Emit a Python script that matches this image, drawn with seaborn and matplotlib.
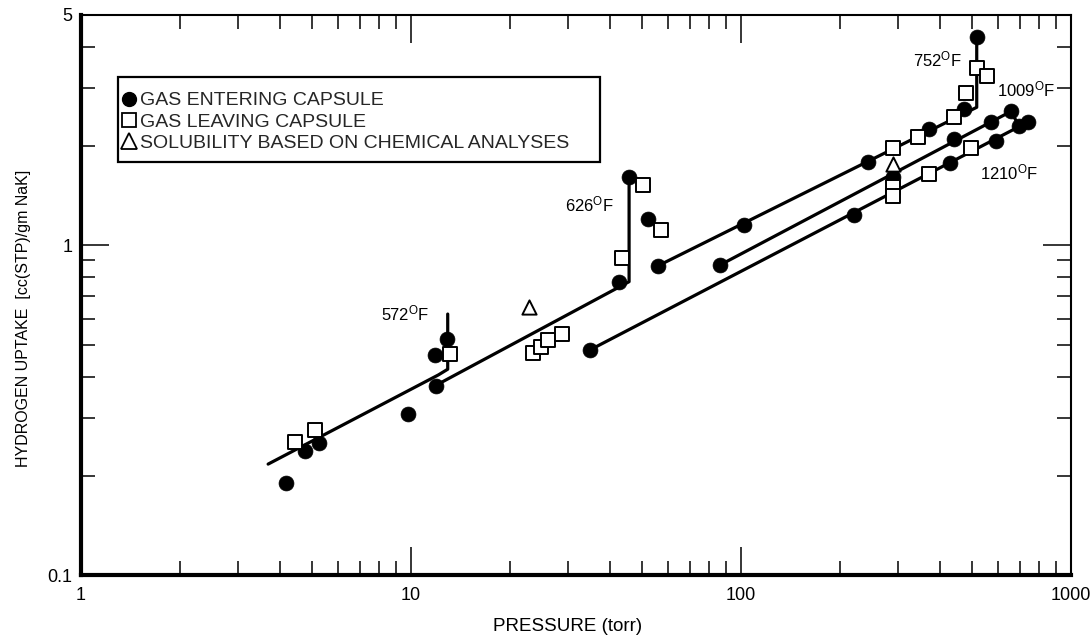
import numpy as np
import pandas as pd
import matplotlib
matplotlib.use("Agg")
import matplotlib.pyplot as plt
import seaborn as sns
from matplotlib.lines import Line2D
from matplotlib.patches import Rectangle
from matplotlib.ticker import FixedLocator, FixedFormatter, LogLocator, NullFormatter

# ---------------- data ----------------
entering_p = [4.18, 4.77, 5.26, 9.81, 11.9, 11.8, 12.9, 42.7, 45.8, 52.2, 55.9,
              102, 242, 372, 475, 520, 34.9, 86.4, 288, 443, 572, 658,
              220, 430, 591, 696, 742]
entering_u = [0.190, 0.238, 0.251, 0.308, 0.375, 0.465, 0.52, 0.776, 1.61, 1.20, 0.866,
              1.15, 1.79, 2.25, 2.59, 4.30, 0.482, 0.872, 1.61, 2.11, 2.36, 2.55,
              1.24, 1.78, 2.08, 2.30, 2.37]

leaving_p = [4.45, 5.12, 13.1, 23.5, 24.8, 26.1, 28.6, 43.5, 50.4, 57.2,
             288, 343, 443, 480, 518, 558, 288, 288, 372, 497]
leaving_u = [0.254, 0.275, 0.467, 0.471, 0.493, 0.516, 0.537, 0.914, 1.53, 1.11,
             1.98, 2.13, 2.45, 2.89, 3.46, 3.27, 1.50, 1.41, 1.65, 1.97]

solubility_p = [22.8, 288]
solubility_u = [0.652, 1.77]

line_572_p = [3.69, 12.1, 12.92, 12.92]
line_572_u = [0.217, 0.4045, 0.421, 0.619]
line_626_p = [12.24, 45.8, 45.8]
line_626_u = [0.382, 0.776, 1.609]
line_752_p = [55.9, 518, 518]
line_752_u = [0.866, 2.624, 4.30]
line_1009_p = [86.4, 658, 696]
line_1009_u = [0.872, 2.55, 2.30]
line_1210_p = [34.9, 742]
line_1210_u = [0.482, 2.37]

temp_labels = ["572", "626", "752", "1009", "1210"]
temp_label_p = [8.11, 29.3, 333, 595, 530]
temp_label_u = [0.591, 1.266, 3.485, 2.827, 1.587]

legend_labels = ["GAS ENTERING CAPSULE", "GAS LEAVING CAPSULE",
                 "SOLUBILITY BASED ON CHEMICAL ANALYSES"]

x_ticks = [1, 10, 100, 1000]
x_tick_labels = ["1", "10", "100", "1000"]
y_ticks = [0.1, 1, 5]
y_tick_labels = ["0.1", "1", "5"]

# ---------------- style ----------------
sns.set_theme(style="ticks")
plt.rcParams["font.family"] = ["Liberation Sans", "DejaVu Sans"]
plt.rcParams["mathtext.fontset"] = "custom"
plt.rcParams["mathtext.rm"] = "Liberation Sans"
plt.rcParams["mathtext.it"] = "Liberation Sans"
plt.rcParams["mathtext.bf"] = "Liberation Sans"

fig = plt.figure(figsize=(10.9, 6.4), dpi=100)
ax = fig.add_axes([81 / 1090, 65 / 640, 990 / 1090, 560 / 640])
ax.set_xscale("log")
ax.set_yscale("log")

lw = 2.3
for lp, lu in [(line_572_p, line_572_u), (line_626_p, line_626_u),
               (line_752_p, line_752_u), (line_1009_p, line_1009_u),
               (line_1210_p, line_1210_u)]:
    sns.lineplot(x=lp, y=lu, sort=False, estimator=None, color="black",
                 linewidth=lw, ax=ax, zorder=2)

sns.scatterplot(x=entering_p, y=entering_u, marker="o", s=115, color="black",
                edgecolor="black", linewidth=0.5, ax=ax, zorder=3)
sns.scatterplot(x=leaving_p, y=leaving_u, marker="s", s=105, facecolor="white",
                edgecolor="black", linewidth=1.4, ax=ax, zorder=4)
sns.scatterplot(x=solubility_p, y=solubility_u, marker="^", s=105, facecolor="white",
                edgecolor="black", linewidth=1.4, ax=ax, zorder=5)

for t, px, pu in zip(temp_labels, temp_label_p, temp_label_u):
    ax.text(px, pu, t + r"$^{\mathrm{O}}$F", fontsize=12, ha="left", va="baseline",
            color="black", zorder=6)

ax.set_xlim(1, 1000)
ax.set_ylim(0.1, 5)

ax.xaxis.set_major_locator(FixedLocator(x_ticks))
ax.xaxis.set_major_formatter(FixedFormatter(x_tick_labels))
ax.xaxis.set_minor_locator(LogLocator(base=10, subs=np.arange(2, 10)))
ax.xaxis.set_minor_formatter(NullFormatter())
ax.yaxis.set_major_locator(FixedLocator(y_ticks))
ax.yaxis.set_major_formatter(FixedFormatter(y_tick_labels))
ax.yaxis.set_minor_locator(LogLocator(base=10, subs=np.arange(2, 10)))
ax.yaxis.set_minor_formatter(NullFormatter())

ax.tick_params(which="both", direction="in", top=True, right=True, color="black",
               labelcolor="black", labelsize=13)
ax.tick_params(which="major", length=20, width=1.1)
ax.tick_params(which="minor", length=10, width=1.1)
ax.tick_params(axis="x", which="major", pad=9)
ax.tick_params(axis="y", which="major", pad=6)

for side, w in [("left", 3.0), ("bottom", 3.0), ("top", 1.5), ("right", 1.5)]:
    ax.spines[side].set_visible(True)
    ax.spines[side].set_linewidth(w)
    ax.spines[side].set_color("black")

ax.set_xlabel("PRESSURE (torr)", fontsize=13.5, color="black")
ax.set_ylabel("HYDROGEN UPTAKE  [cc(STP)/gm NaK]", fontsize=11.5, color="black")
ax.xaxis.set_label_coords(0.491, -0.076)
ax.yaxis.set_label_coords(-0.050, 0.459)

# legend box (frame drawn as a rectangle, entries by the legend)
ax.add_patch(Rectangle((0.0369, 0.737), 0.4874, 0.1529, transform=ax.transAxes,
                       facecolor="white", edgecolor="black", linewidth=1.6, zorder=7))
handles = [
    Line2D([], [], marker="o", ls="", color="black", ms=10),
    Line2D([], [], marker="s", ls="", mfc="white", mec="black", ms=10, mew=1.3),
    Line2D([], [], marker="^", ls="", mfc="white", mec="black", ms=11, mew=1.3),
]
leg = ax.legend(handles, legend_labels, loc="upper left",
                bbox_to_anchor=(0.043, 0.863), borderaxespad=0, borderpad=0,
                labelspacing=0.19, handlelength=0.6, handletextpad=0.25,
                fontsize=14, frameon=False)
leg.set_zorder(8)

fig.savefig("out.png", dpi=100, facecolor="white")
